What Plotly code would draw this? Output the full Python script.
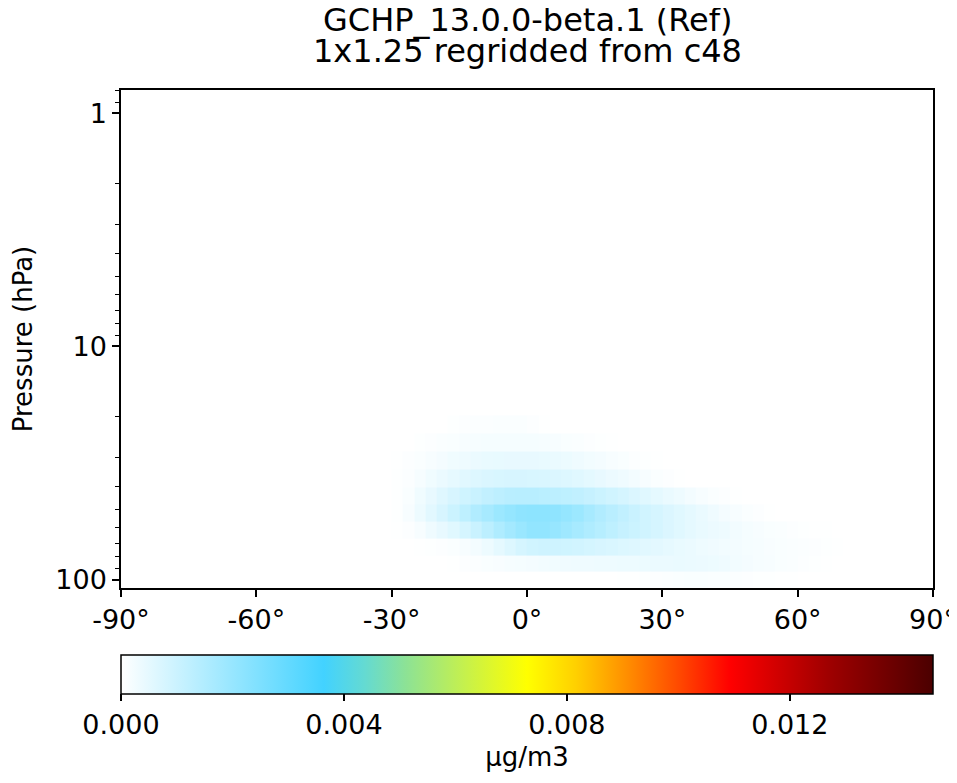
import math
import plotly.graph_objects as go

# latitude bin centres (deg) for the non-empty part of the zonal mean
lat_centres = [-28.75, -26.25, -23.75, -21.25, -18.75, -16.25, -13.75, -11.25, -8.75, -6.25,
               -3.75, -1.25, 1.25, 3.75, 6.25, 8.75, 11.25, 13.75, 16.25, 18.75,
               21.25, 23.75, 26.25, 28.75, 31.25, 33.75, 36.25, 38.75, 41.25, 43.75,
               46.25, 48.75, 51.25, 53.75, 56.25, 58.75, 61.25, 63.75, 66.25, 68.75]

# GEOS 72-level pressure edges (hPa) for the rows that hold the data, bottom -> top
p_edges = [108.663, 92.3657, 78.5123, 66.6034, 56.3879, 47.6439, 40.1754,
           33.8100, 28.3678, 23.7304, 19.7916]

# top / bottom of the plotted column (hPa)
p_top = 0.7951
p_bot = 108.663

# concentrations in units of 1e-4 ug/m3, one list per level (bottom -> top)
lev_92_108 = [0, 0, 0, 0, 0, 0, 0, 0, 0, 0, 0, 0, 0, 0, 0, 0, 0, 0, 0, 0,
              0.1, 0.2, 0.4, 0.6, 0.8, 1.0, 1.1, 1.1, 1.0, 0.9, 0.8, 0.6, 0.4, 0.3, 0.2, 0.1, 0, 0, 0, 0]
lev_78_92 = [0, 0, 0, 0, 0, 0.2, 0.5, 0.8, 1.1, 1.4, 1.7, 2.0, 2.2, 2.5, 2.7, 2.9, 3.0, 3.1, 3.2, 3.3,
             3.4, 3.5, 3.6, 3.8, 3.9, 4.0, 3.9, 3.7, 3.4, 3.0, 2.6, 2.2, 1.8, 1.5, 1.2, 0.9, 0.6, 0.4, 0.2, 0]
lev_67_78 = [0, 0, 0.1, 0.3, 0.6, 1.0, 1.6, 2.4, 3.5, 5.0, 6.5, 8.0, 9.0, 9.5, 9.5, 9.2, 8.8, 8.3, 7.8, 7.3,
             6.8, 6.3, 5.8, 5.3, 4.8, 4.3, 3.8, 3.3, 2.9, 2.6, 2.3, 2.0, 1.7, 1.4, 1.1, 0.9, 0.7, 0.5, 0.3, 0.15]
lev_56_67 = [0.2, 0.6, 1.5, 3.0, 4.5, 6.0, 8.0, 10.5, 13.0, 15.5, 17.5, 19.5, 21.0, 21.0, 20.0, 18.5, 17.0, 15.5, 14.0, 12.5,
             11.0, 10.0, 9.0, 8.0, 7.0, 6.0, 5.0, 4.3, 3.7, 3.2, 2.6, 2.0, 1.6, 1.2, 0.9, 0.6, 0.4, 0.2, 0.1, 0]
lev_48_56 = [0.4, 1.5, 3.5, 5.5, 7.8, 10.0, 12.5, 15.0, 17.0, 19.0, 20.5, 21.5, 22.0, 22.0, 21.5, 20.5, 19.0, 17.0, 15.0, 13.5,
             12.0, 10.5, 9.0, 8.0, 7.0, 6.0, 5.0, 4.0, 3.0, 2.2, 1.5, 1.0, 0.5, 0.2, 0, 0, 0, 0, 0, 0]
lev_40_48 = [0.4, 1.2, 2.8, 4.5, 6.2, 7.8, 9.2, 10.5, 11.8, 12.8, 13.4, 13.6, 13.6, 13.3, 13.0, 12.5, 12.0, 11.0, 10.0, 9.0,
             8.0, 7.0, 6.0, 5.0, 4.0, 3.2, 2.4, 1.6, 1.0, 0.5, 0.2, 0, 0, 0, 0, 0, 0, 0, 0, 0]
lev_34_40 = [0.3, 0.8, 1.8, 2.8, 3.8, 4.8, 5.7, 6.5, 7.1, 7.5, 7.7, 7.7, 7.6, 7.3, 7.0, 6.5, 6.0, 5.2, 4.5, 3.7,
             3.0, 2.3, 1.6, 1.0, 0.5, 0.2, 0, 0, 0, 0, 0, 0, 0, 0, 0, 0, 0, 0, 0, 0]
lev_28_34 = [0.2, 0.5, 1.0, 1.6, 2.2, 2.8, 3.3, 3.8, 4.2, 4.4, 4.5, 4.5, 4.5, 4.3, 4.0, 3.6, 3.1, 2.6, 2.1, 1.6,
             1.1, 0.6, 0.3, 0.1, 0, 0, 0, 0, 0, 0, 0, 0, 0, 0, 0, 0, 0, 0, 0, 0]
lev_24_28 = [0, 0, 0.3, 0.6, 0.9, 1.2, 1.5, 1.7, 1.9, 2.0, 2.0, 2.0, 1.9, 1.7, 1.5, 1.2, 1.0, 0.6, 0.3, 0.1,
             0, 0, 0, 0, 0, 0, 0, 0, 0, 0, 0, 0, 0, 0, 0, 0, 0, 0, 0, 0]
lev_20_24 = [0, 0, 0, 0, 0, 0.3, 0.5, 0.7, 0.8, 1.0, 1.0, 0.9, 0.5, 0.2, 0, 0, 0, 0, 0, 0,
             0, 0, 0, 0, 0, 0, 0, 0, 0, 0, 0, 0, 0, 0, 0, 0, 0, 0, 0, 0]

levels = [lev_92_108, lev_78_92, lev_67_78, lev_56_67, lev_48_56,
          lev_40_48, lev_34_40, lev_28_34, lev_24_28, lev_20_24]
conc = [[v * 1e-4 for v in row] for row in levels]

cmin = 0.0
cmax = 0.01457
cbar_ticks = [0.0, 0.004, 0.008, 0.012]
lat_ticks = [-90, -60, -30, 0, 30, 60, 90]
p_major = [1, 10, 100]
p_minor = [0.8, 0.9, 2, 3, 4, 5, 6, 7, 8, 9, 20, 30, 40, 50, 60, 70, 80, 90]

title_lines = ['GCHP_13.0.0-beta.1 (Ref)', '1x1.25 regridded from c48']

# white -> light blue -> green -> yellow -> red -> dark red
WhGrYlRd = [
    [0.0, 'rgb(255,255,255)'],
    [0.25, 'rgb(66,210,255)'],
    [0.30, 'rgb(100,218,210)'],
    [0.35, 'rgb(140,226,150)'],
    [0.42, 'rgb(195,240,80)'],
    [0.50, 'rgb(255,255,0)'],
    [0.56, 'rgb(255,208,0)'],
    [0.625, 'rgb(255,140,0)'],
    [0.69, 'rgb(255,70,0)'],
    [0.75, 'rgb(255,0,0)'],
    [0.87, 'rgb(160,0,0)'],
    [1.0, 'rgb(75,0,0)'],
]

font = 'DejaVu Sans'
tick_size = 27

hm = go.Heatmap(
    x=lat_centres, y=p_edges, z=conc,
    zmin=cmin, zmax=cmax, colorscale=WhGrYlRd,
    colorbar=dict(
        orientation='h', x=0.5, xanchor='center', y=-0.1345, yanchor='top',
        len=1.0, lenmode='fraction', thickness=39, xpad=0, ypad=0,
        outlinewidth=1.5, outlinecolor='black',
        tickvals=cbar_ticks, ticktext=['%.3f' % t for t in cbar_ticks],
        ticks='outside', ticklen=7, tickwidth=1.5, tickcolor='black',
        tickfont=dict(family=font, size=tick_size, color='black'),
        title=dict(text='µg/m3', side='bottom', font=dict(family=font, size=26, color='black')),
    ),
    hoverinfo='skip',
)

fig = go.Figure(data=[hm])

# page body adds ~8 px, so the figure is drawn 8 px smaller than the window
fig.update_layout(
    width=949, height=775,
    margin=dict(l=113, r=24, t=82, b=195, autoexpand=False),
    paper_bgcolor='white', plot_bgcolor='white',
    font=dict(family=font, size=tick_size, color='black'),
    annotations=[
        dict(text=title_lines[0], x=0.5, y=1.1406, xref='paper', yref='paper',
             xanchor='center', yanchor='middle', showarrow=False,
             font=dict(family=font, size=32, color='black')),
        dict(text=title_lines[1], x=0.5, y=1.0783, xref='paper', yref='paper',
             xanchor='center', yanchor='middle', showarrow=False,
             font=dict(family=font, size=32, color='black')),
    ],
    xaxis=dict(
        range=[-90, 90], tickvals=lat_ticks, ticktext=['%d°' % t for t in lat_ticks],
        showline=True, mirror=True, linecolor='black', linewidth=1.5,
        ticks='outside', ticklen=7, tickwidth=1.5, tickcolor='black',
        showgrid=False, zeroline=False, automargin=False,
    ),
    yaxis=dict(
        type='log', range=[math.log10(p_bot), math.log10(p_top)],
        tickvals=p_major, ticktext=[str(p) for p in p_major],
        showline=True, mirror=True, linecolor='black', linewidth=1.5,
        ticks='outside', ticklen=7, tickwidth=1.5, tickcolor='black',
        minor=dict(tickvals=p_minor, ticks='outside', ticklen=4, tickwidth=1.2, tickcolor='black', showgrid=False),
        showgrid=False, zeroline=False, automargin=False,
        title=dict(text='Pressure (hPa)', standoff=20, font=dict(family=font, size=26, color='black')),
    ),
)

fig.write_html('out.html')
